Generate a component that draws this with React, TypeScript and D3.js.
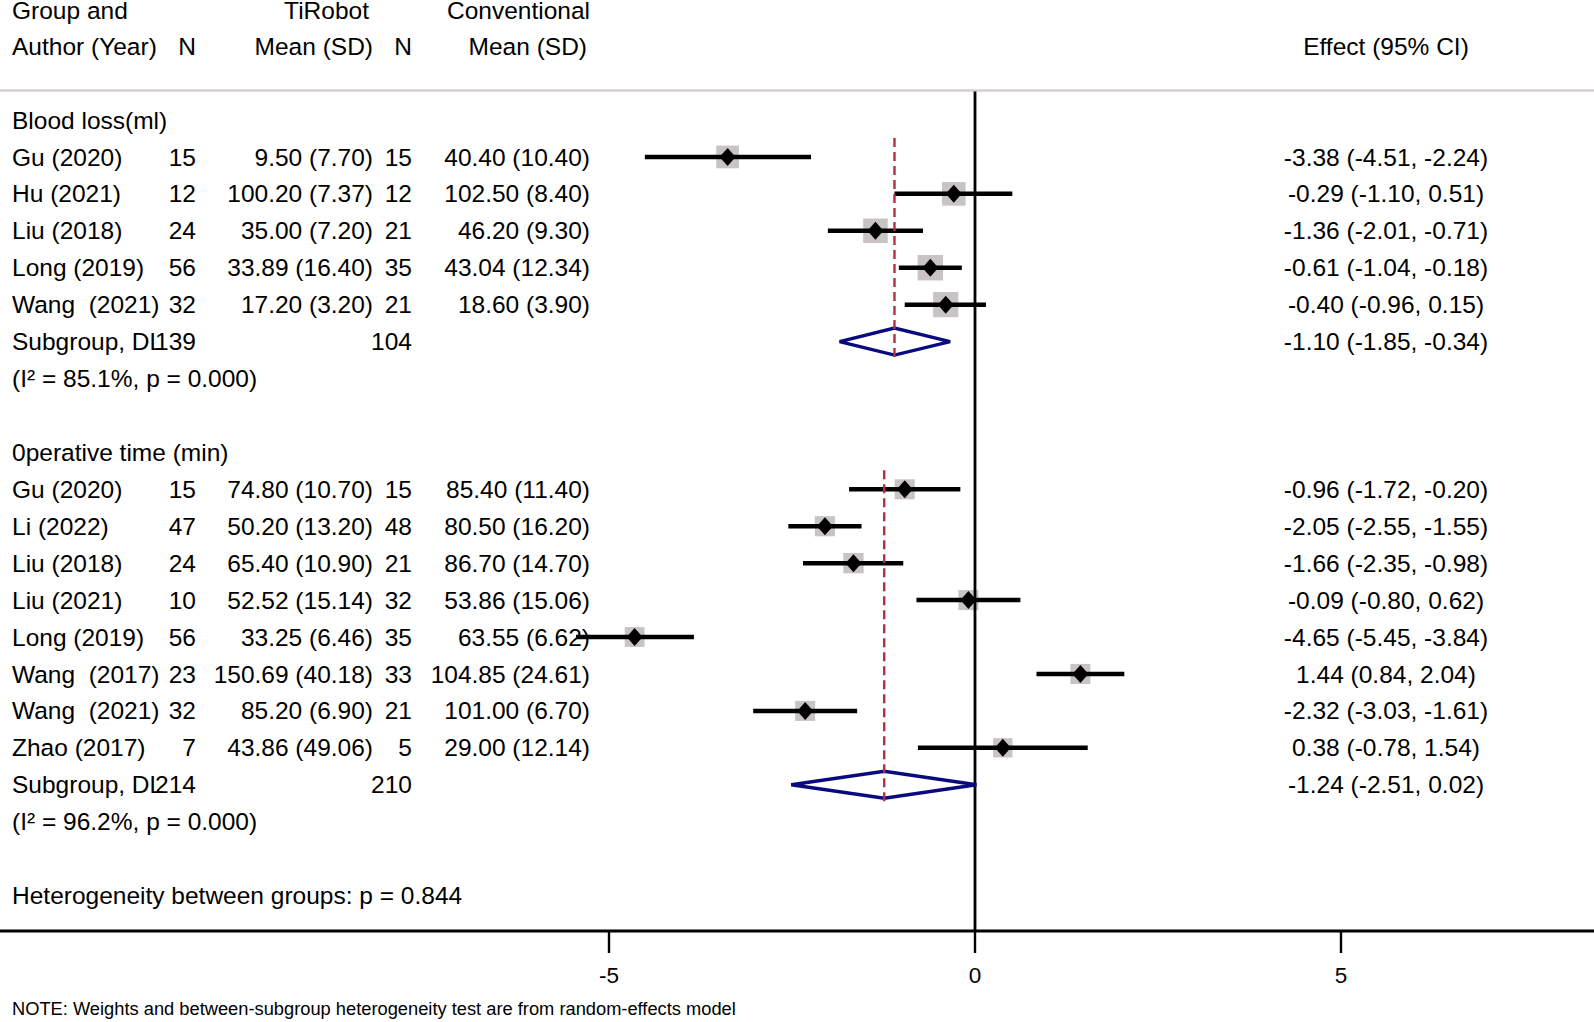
import React, { useEffect } from "react";
import * as d3 from "d3";

// ---------- data ----------
const headerGroup = ["Group and", "Author (Year)"];
const headerTi = ["TiRobot", "Mean (SD)"];
const headerConv = ["Conventional", "Mean (SD)"];
const headerEffect = "Effect (95% CI)";

const bloodTitle = "Blood loss(ml)";
const bloodStudies = ["Gu (2020)", "Hu (2021)", "Liu (2018)", "Long (2019)", "Wang  (2021)"];
const bloodN1 = [15, 12, 24, 56, 32];
const bloodMean1 = [9.5, 100.2, 35.0, 33.89, 17.2];
const bloodSd1 = [7.7, 7.37, 7.2, 16.4, 3.2];
const bloodN2 = [15, 12, 21, 35, 21];
const bloodMean2 = [40.4, 102.5, 46.2, 43.04, 18.6];
const bloodSd2 = [10.4, 8.4, 9.3, 12.34, 3.9];
const bloodEs = [-3.38, -0.29, -1.36, -0.61, -0.4];
const bloodLo = [-4.51, -1.1, -2.01, -1.04, -0.96];
const bloodHi = [-2.24, 0.51, -0.71, -0.18, 0.15];
const bloodWeight = [16.4, 17.8, 19.2, 20.6, 20.2];
const bloodSub = { n1: 139, n2: 104, es: -1.1, lo: -1.85, hi: -0.34, i2: "85.1", p: "0.000" };

const opTitle = "0perative time (min)";
const opStudies = ["Gu (2020)", "Li (2022)", "Liu (2018)", "Liu (2021)", "Long (2019)", "Wang  (2017)", "Wang  (2021)", "Zhao (2017)"];
const opN1 = [15, 47, 24, 10, 56, 23, 32, 7];
const opMean1 = [74.8, 50.2, 65.4, 52.52, 33.25, 150.69, 85.2, 43.86];
const opSd1 = [10.7, 13.2, 10.9, 15.14, 6.46, 40.18, 6.9, 49.06];
const opN2 = [15, 48, 21, 32, 35, 33, 21, 5];
const opMean2 = [85.4, 80.5, 86.7, 53.86, 63.55, 104.85, 101.0, 29.0];
const opSd2 = [11.4, 16.2, 14.7, 15.06, 6.62, 24.61, 6.7, 12.14];
const opEs = [-0.96, -2.05, -1.66, -0.09, -4.65, 1.44, -2.32, 0.38];
const opLo = [-1.72, -2.55, -2.35, -0.8, -5.45, 0.84, -3.03, -0.78];
const opHi = [-0.2, -1.55, -0.98, 0.62, -3.84, 2.04, -1.61, 1.54];
const opWeight = [12.8, 12.9, 13.2, 12.8, 12.5, 12.8, 12.8, 11.9];
const opSub = { n1: 214, n2: 210, es: -1.24, lo: -2.51, hi: 0.02, i2: "96.2", p: "0.000" };

const hetText = "Heterogeneity between groups: p = 0.844";
const noteText = "NOTE: Weights and between-subgroup heterogeneity test are from random-effects model";
const axisTicks = [-5, 0, 5];

// ---------- layout ----------
const W = 1594;
const H = 1022;
const FONT = "'Liberation Sans', Arial, Helvetica, sans-serif";
const FS = 24.5;
const ROW0 = 120;
const ROWH = 36.93;
const rowY = (i: number) => ROW0 + i * ROWH;
const COL_LABEL = 12;
const COL_N1 = 196;
const COL_M1 = 373;
const COL_N2 = 412;
const COL_M2 = 590;
const COL_EFF = 1386;
const AXIS_Y = 931;
const SEP_Y = 90.5;

const x = d3.scaleLinear().domain([-5, 5]).range([609, 1341]);
const boxK = 5.6;

const f2 = (v: number) => v.toFixed(2);
const msd = (m: number, s: number) => `${f2(m)} (${f2(s)})`;
const effLabel = (e: number, l: number, h: number) => `${f2(e)} (${f2(l)}, ${f2(h)})`;

type Study = {
  name: string; n1: number; m1: number; s1: number; n2: number; m2: number; s2: number;
  es: number; lo: number; hi: number; w: number;
};

function build(names: string[], n1: number[], m1: number[], s1: number[], n2: number[], m2: number[], s2: number[],
  es: number[], lo: number[], hi: number[], w: number[]): Study[] {
  return names.map((name, i) => ({
    name, n1: n1[i], m1: m1[i], s1: s1[i], n2: n2[i], m2: m2[i], s2: s2[i],
    es: es[i], lo: lo[i], hi: hi[i], w: w[i],
  }));
}

const groups = [
  {
    title: bloodTitle, start: 0,
    studies: build(bloodStudies, bloodN1, bloodMean1, bloodSd1, bloodN2, bloodMean2, bloodSd2, bloodEs, bloodLo, bloodHi, bloodWeight),
    sub: bloodSub,
  },
  {
    title: opTitle, start: 9,
    studies: build(opStudies, opN1, opMean1, opSd1, opN2, opMean2, opSd2, opEs, opLo, opHi, opWeight),
    sub: opSub,
  },
];

const T = (props: any) => (
  <text
    fontFamily={FONT}
    fontSize={FS}
    fill="#000"
    dy="0.35em"
    style={{ whiteSpace: "pre" }}
    {...props}
  />
);

export default function App() {
  useEffect(() => {
    document.body.style.margin = "0";
  }, []);

  const texts: React.ReactNode[] = [];
  const boxes: React.ReactNode[] = [];
  const lines: React.ReactNode[] = [];
  const marks: React.ReactNode[] = [];
  const dashes: React.ReactNode[] = [];

  groups.forEach((g, gi) => {
    texts.push(<T key={`gt${gi}`} x={COL_LABEL} y={rowY(g.start)}>{g.title}</T>);
    g.studies.forEach((s, si) => {
      const y = rowY(g.start + 1 + si);
      texts.push(
        <g key={`r${gi}-${si}`}>
          <T x={COL_LABEL} y={y}>{s.name}</T>
          <T x={COL_N1} y={y} textAnchor="end">{String(s.n1)}</T>
          <T x={COL_M1} y={y} textAnchor="end">{msd(s.m1, s.s1)}</T>
          <T x={COL_N2} y={y} textAnchor="end">{String(s.n2)}</T>
          <T x={COL_M2} y={y} textAnchor="end">{msd(s.m2, s.s2)}</T>
          <T x={COL_EFF} y={y} textAnchor="middle">{effLabel(s.es, s.lo, s.hi)}</T>
        </g>
      );
      const side = boxK * Math.sqrt(s.w);
      boxes.push(
        <rect key={`b${gi}-${si}`} x={x(s.es) - side / 2} y={y - side / 2} width={side} height={side} fill="#c8c4c4" />
      );
      lines.push(
        <line key={`l${gi}-${si}`} x1={x(s.lo)} x2={x(s.hi)} y1={y} y2={y} stroke="#000" strokeWidth={4.5} />
      );
      const cx = x(s.es);
      marks.push(
        <path key={`m${gi}-${si}`} d={`M${cx - 8},${y} L${cx},${y - 9} L${cx + 8},${y} L${cx},${y + 9} Z`} fill="#000" />
      );
    });
    const sy = rowY(g.start + 1 + g.studies.length);
    const sub = g.sub;
    texts.push(
      <g key={`s${gi}`}>
        <T x={COL_LABEL} y={sy}>Subgroup, DL</T>
        <T x={COL_N1} y={sy} textAnchor="end">{String(sub.n1)}</T>
        <T x={COL_N2} y={sy} textAnchor="end">{String(sub.n2)}</T>
        <T x={COL_EFF} y={sy} textAnchor="middle">{effLabel(sub.es, sub.lo, sub.hi)}</T>
        <T x={COL_LABEL} y={rowY(g.start + 2 + g.studies.length)}>{`(I\u00B2 = ${sub.i2}%, p = ${sub.p})`}</T>
      </g>
    );
    const dh = 13.5;
    marks.push(
      <path
        key={`d${gi}`}
        d={`M${x(sub.lo)},${sy} L${x(sub.es)},${sy - dh} L${x(sub.hi)},${sy} L${x(sub.es)},${sy + dh} Z`}
        fill="none"
        stroke="#0a0a80"
        strokeWidth={3.4}
        strokeLinejoin="miter"
      />
    );
    dashes.push(
      <line
        key={`dl${gi}`}
        x1={x(sub.es)} x2={x(sub.es)}
        y1={rowY(g.start + 1) - 19} y2={sy + 18}
        stroke="#b23040"
        strokeWidth={2.4}
        strokeDasharray="9 5"
      />
    );
  });

  return (
    <div style={{ position: "absolute", left: 0, top: 0 }}>
      <svg width={W} height={H} viewBox={`0 0 ${W} ${H}`} style={{ display: "block", background: "#fff" }}>
        <rect x={0} y={0} width={W} height={H} fill="#fff" />
        {/* headers */}
        <T x={COL_LABEL} y={rowY(-3) + 1}>{headerGroup[0]}</T>
        <T x={COL_LABEL} y={rowY(-2)}>{headerGroup[1]}</T>
        <T x={COL_N1} y={rowY(-2)} textAnchor="end">N</T>
        <T x={COL_M1 - 4} y={rowY(-3) + 1} textAnchor="end">{headerTi[0]}</T>
        <T x={COL_M1} y={rowY(-2)} textAnchor="end">{headerTi[1]}</T>
        <T x={COL_N2} y={rowY(-2)} textAnchor="end">N</T>
        <T x={COL_M2} y={rowY(-3) + 1} textAnchor="end">{headerConv[0]}</T>
        <T x={COL_M2 - 3} y={rowY(-2)} textAnchor="end">{headerConv[1]}</T>
        <T x={COL_EFF} y={rowY(-2)} textAnchor="middle">{headerEffect}</T>
        <line x1={0} x2={W} y1={SEP_Y} y2={SEP_Y} stroke="#d8cccc" strokeWidth={2.5} />

        {texts}
        {boxes}
        {/* null line */}
        <line x1={x(0)} x2={x(0)} y1={SEP_Y + 1} y2={AXIS_Y} stroke="#000" strokeWidth={2.8} />
        {lines}
        {marks}
        {dashes}

        <T x={COL_LABEL} y={rowY(21)}>{hetText}</T>

        {/* axis */}
        <line x1={0} x2={W} y1={AXIS_Y} y2={AXIS_Y} stroke="#000" strokeWidth={3} />
        {axisTicks.map((t) => (
          <g key={`t${t}`}>
            <line x1={x(t)} x2={x(t)} y1={AXIS_Y} y2={AXIS_Y + 22} stroke="#000" strokeWidth={2.4} />
            <T x={x(t)} y={975} textAnchor="middle" fontSize={22.5}>{String(t)}</T>
          </g>
        ))}
        <T x={COL_LABEL} y={1009} fontSize={18.3}>{noteText}</T>
      </svg>
    </div>
  );
}
